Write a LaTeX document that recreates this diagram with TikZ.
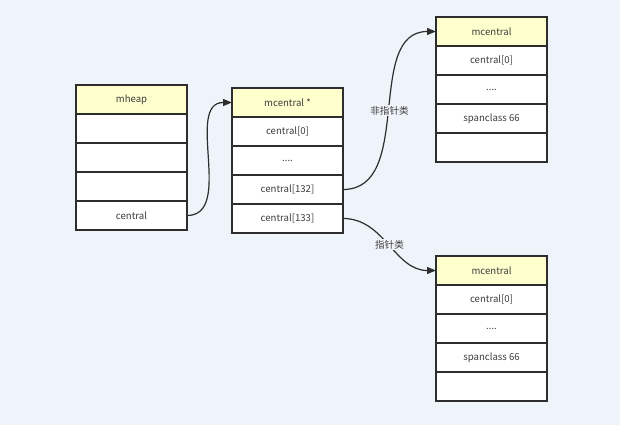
\documentclass[tikz,border=0pt]{standalone}
\usepackage{fontspec}
\setmainfont{Noto Sans CJK SC}
\usetikzlibrary{positioning}
\usetikzlibrary{arrows.meta}
\definecolor{bgblue}{RGB}{239,243,250}
\definecolor{headyellow}{RGB}{255,255,206}
\definecolor{boxline}{RGB}{45,45,45}
\definecolor{txtgray}{RGB}{60,60,60}

\begin{document}
\begin{tikzpicture}[x=1pt, y=-1pt,
		cell/.style={draw=boxline, fill=white, line width=1.2pt, outer sep=0pt, inner sep=0pt,
			minimum width=111pt, minimum height=29pt, text=txtgray, font=\fontsize{9.6}{11}\selectfont},
		head/.style={cell, fill=headyellow},
		link/.style={draw=boxline, line width=1.2pt, -{Triangle[length=9pt,width=7pt]}},
		tag/.style={fill=bgblue, inner sep=1pt, text=txtgray, font=\fontsize{9.6}{11}\selectfont}]
		\fill[bgblue] (0,0) rectangle (620,425);
		\useasboundingbox (0,0) rectangle (620,425);
		% mheap
		\node[head, anchor=north west] (heap0) at (76,85) {mheap};
		\node[cell, below=0pt of heap0] (heap1) {};
		\node[cell, below=0pt of heap1] (heap2) {};
		\node[cell, below=0pt of heap2] (heap3) {};
		\node[cell, below=0pt of heap3] (heap4) {central};
		% mcentral array
		\node[head, anchor=north west] (arr0) at (232,88) {mcentral *};
		\node[cell, below=0pt of arr0] (arr1) {central[0]};
		\node[cell, below=0pt of arr1] (arr2) {....};
		\node[cell, below=0pt of arr2] (arr3) {central[132]};
		\node[cell, below=0pt of arr3] (arr4) {central[133]};
		% noscan mcentral
		\node[head, anchor=north west] (nos0) at (436,17) {mcentral};
		\node[cell, below=0pt of nos0] (nos1) {central[0]};
		\node[cell, below=0pt of nos1] (nos2) {....};
		\node[cell, below=0pt of nos2] (nos3) {spanclass 66};
		\node[cell, below=0pt of nos3] (nos4) {};
		% scan mcentral
		\node[head, anchor=north west] (scn0) at (436,256) {mcentral};
		\node[cell, below=0pt of scn0] (scn1) {central[0]};
		\node[cell, below=0pt of scn1] (scn2) {....};
		\node[cell, below=0pt of scn2] (scn3) {spanclass 66};
		\node[cell, below=0pt of scn3] (scn4) {};
		% links
		\draw[link] (heap4.east) to[out=0, in=180] (arr0.west);
		\draw[link] (arr3.east) to[out=0, in=180] node[tag] (tagnos) {非指针类} (nos0.west);
		\draw[link] (arr4.east) to[out=0, in=180] node[tag] (tagscn) {指针类} (scn0.west);
	\end{tikzpicture}
\end{document}
